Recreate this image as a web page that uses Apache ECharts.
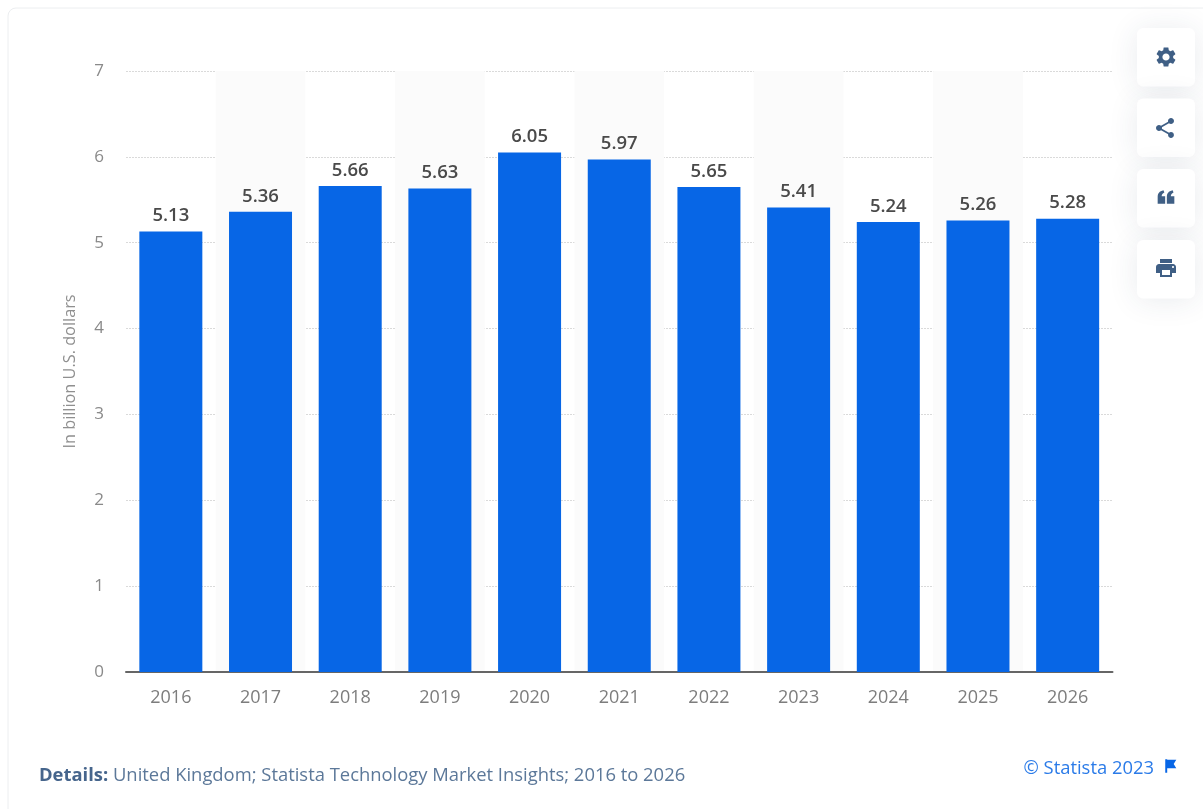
<!DOCTYPE html>
<html>
<head>
<meta charset="utf-8">
<style>html,body{margin:0;padding:0;background:#fff}#c{width:1203px;height:809px}</style>
<script src="https://cdn.jsdelivr.net/npm/echarts@6/dist/echarts.min.js"></script>
</head>
<body>
<div id="c"></div>
<script>
const years = ['2016','2017','2018','2019','2020','2021','2022','2023','2024','2025','2026'];
const revenue = [5.13,5.36,5.66,5.63,6.05,5.97,5.65,5.41,5.24,5.26,5.28];
const axisTitle = 'In billion U.S. dollars';
const detailsLabel = 'Details:';
const detailsText = ' United Kingdom; Statista Technology Market Insights; 2016 to 2026';
const copyright = '© Statista 2023';

const FONT = '"Open Sans", "Noto Sans", sans-serif';
const ICON_COLOR = '#3f5f85';

// Toolbar glyphs, all drawn in a 24-unit box
const ICONS = {
  gear: 'M19.14 12.94c.04-.3.06-.61.06-.94 0-.32-.02-.64-.07-.94l2.03-1.58c.18-.14.23-.41.12-.61l-1.92-3.32c-.12-.22-.37-.29-.59-.22l-2.39.96c-.5-.38-1.03-.7-1.62-.94l-.36-2.54c-.04-.24-.24-.41-.48-.41h-3.84c-.24 0-.43.17-.47.41l-.36 2.54c-.59.24-1.13.57-1.62.94l-2.39-.96c-.22-.08-.47 0-.59.22L2.74 8.87c-.12.21-.08.47.12.61l2.03 1.58c-.05.3-.09.63-.09.94s.02.64.07.94l-2.03 1.58c-.18.14-.23.41-.12.61l1.92 3.32c.12.22.37.29.59.22l2.39-.96c.5.38 1.03.7 1.62.94l.36 2.54c.05.24.24.41.48.41h3.84c.24 0 .44-.17.47-.41l.36-2.54c.59-.24 1.13-.56 1.62-.94l2.39.96c.22.08.47 0 .59-.22l1.92-3.32c.12-.22.07-.47-.12-.61l-2.01-1.58zM12 15.6c-1.98 0-3.6-1.62-3.6-3.6s1.62-3.6 3.6-3.6 3.6 1.62 3.6 3.6-1.62 3.6-3.6 3.6z',
  share: 'M18 16.08c-.76 0-1.44.3-1.96.77L8.91 12.7c.05-.23.09-.46.09-.7s-.04-.47-.09-.7l7.05-4.11c.54.5 1.25.81 2.04.81 1.66 0 3-1.34 3-3s-1.34-3-3-3-3 1.34-3 3c0 .24.04.47.09.7L8.04 9.81C7.5 9.31 6.79 9 6 9c-1.66 0-3 1.34-3 3s1.34 3 3 3c.79 0 1.5-.31 2.04-.81l7.12 4.16c-.05.21-.08.43-.08.65 0 1.61 1.31 2.92 2.92 2.92 1.61 0 2.92-1.31 2.92-2.92s-1.31-2.92-2.92-2.92z',
  quote: 'M2 20V12C2 8 4 5 9 4L10 6.5C8 7.3 6.8 9 6.8 11H11V20ZM13 20V12C13 8 15 5 20 4L21 6.5C19 7.3 17.8 9 17.8 11H22V20Z',
  print: 'M19 8H5c-1.66 0-3 1.34-3 3v6h4v4h12v-4h4v-6c0-1.66-1.34-3-3-3zm-3 11H8v-5h8v5zm3-7c-.55 0-1-.45-1-1s.45-1 1-1 1 .45 1 1-.45 1-1 1zm-1-9H6v4h12V3z',
  flag: 'M5 2H8V3H22L18 9.5L22 16H8V23H5Z'
};
Object.keys(ICONS).forEach(k => {
  echarts.graphic.registerShape('icon_' + k, echarts.graphic.extendPath(ICONS[k], {}));
});

function glyph(name, cx, cy, size, fill) {
  const s = size / 24;
  return { type: 'icon_' + name, z: 6, x: cx - 12 * s, y: cy - 12 * s, scaleX: s, scaleY: s, style: { fill } };
}

function toolbarButton(top, name, cx, cy, size) {
  return [
    { type: 'rect', z: 5, shape: { x: 1137, y: top, width: 58, height: 58.5, r: 6 },
      style: { fill: '#fff', shadowBlur: 30, shadowColor: 'rgba(40,60,90,0.10)', shadowOffsetY: 2 } },
    glyph(name, cx, cy, size, ICON_COLOR)
  ];
}

const chart = echarts.init(document.getElementById('c'), null, { renderer: 'canvas' });
chart.setOption({
  animation: false,
  backgroundColor: '#fff',
  textStyle: { fontFamily: FONT },
  grid: { left: 126, right: 90.5, top: 71, bottom: 137 },
  xAxis: {
    type: 'category',
    data: years,
    boundaryGap: true,
    axisLine: { lineStyle: { color: '#666', width: 2 } },
    axisTick: { show: false },
    axisLabel: { color: '#7d7d7d', fontSize: 18, margin: 17, fontFamily: FONT },
    splitArea: { show: true, areaStyle: { color: ['rgba(255,255,255,0)', '#fbfbfb'] } }
  },
  yAxis: {
    type: 'value',
    min: 0,
    max: 7,
    interval: 1,
    name: axisTitle,
    nameLocation: 'middle',
    nameGap: 47.5,
    nameTextStyle: { color: '#8f8f8f', fontSize: 16.3, fontFamily: FONT },
    axisLine: { show: false },
    axisTick: { show: false },
    axisLabel: { color: '#8a8a8a', fontSize: 17, margin: 22, fontFamily: FONT },
    splitLine: { lineStyle: { color: '#dadada', type: [2, 1], width: 1 } }
  },
  series: [{
    type: 'bar',
    data: revenue,
    barWidth: 63,
    itemStyle: { color: '#0766e6' },
    label: {
      show: true,
      position: 'top',
      distance: 6,
      color: '#4a4a4a',
      fontSize: 18.5,
      fontWeight: 600,
      fontFamily: FONT,
      formatter: p => p.value.toFixed(2)
    }
  }],
  graphic: [
    // card outline
    { type: 'rect', z: -1, silent: true, shape: { x: 8, y: 8, width: 1300, height: 1000, r: 8 },
      style: { fill: 'rgba(255,255,255,0)', stroke: '#eceef0', lineWidth: 1 } },
    ...toolbarButton(28, 'gear', 1166, 57, 24),
    ...toolbarButton(98.5, 'share', 1165, 128, 24),
    ...toolbarButton(169, 'quote', 1166, 197, 20),
    ...toolbarButton(240, 'print', 1166, 268, 24),
    { type: 'text', left: 39, top: 767, z: 6,
      style: {
        text: '{b|' + detailsLabel + '}{n|' + detailsText + '}',
        rich: {
          b: { fontFamily: FONT, fontSize: 18.4, fontWeight: 700, fill: '#46658c' },
          n: { fontFamily: FONT, fontSize: 18.4, fill: '#5c7899' }
        }
      } },
    { type: 'text', right: 49, top: 760, z: 6,
      style: { text: copyright, fontFamily: FONT, fontSize: 18.4, fill: '#2b7be8' } },
    glyph('flag', 1169.8, 765.7, 15.6, '#0766e6')
  ]
});
</script>
</body>
</html>
